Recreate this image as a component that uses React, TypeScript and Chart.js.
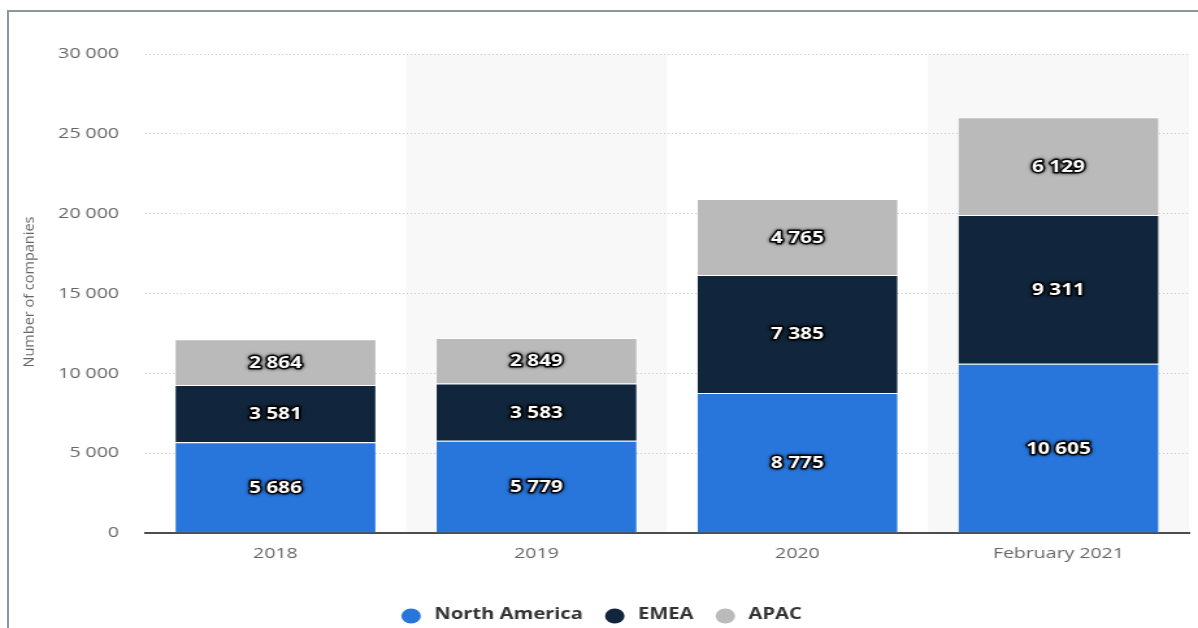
import React, { useEffect, useRef } from "react";
import { Chart, registerables } from "chart.js";

Chart.register(...registerables);

// Categories and series (number of companies by region)
const categories = ["2018", "2019", "2020", "February 2021"];
const northAmerica = [5686, 5779, 8775, 10605];
const emea = [3581, 3583, 7385, 9311];
const apac = [2864, 2849, 4765, 6129];
const seriesNames = ["North America", "EMEA", "APAC"];
const seriesColors = ["#2876dc", "#11263c", "#bababa"];
const yTicks = [0, 5000, 10000, 15000, 20000, 25000, 30000];
const yTitle = "Number of companies";

const VIEW_W = 1198;
const VIEW_H = 628;
// the drawing surface is rendered narrower and stretched to the view width
const CANVAS_W = 922;
const SX = VIEW_W / CANVAS_W;
const FONT = "'Open Sans', 'DejaVu Sans', sans-serif";

const fmt = (v: number) => String(v).replace(/\B(?=(\d{3})+(?!\d))/g, " ");

const bandPlugin = {
  id: "bands",
  beforeDraw(chart: any) {
    const { ctx, chartArea } = chart;
    const xs = chart.scales.x;
    const step = (chartArea.right - chartArea.left) / categories.length;
    ctx.save();
    ctx.fillStyle = "#f8f8f8";
    categories.forEach((_, i) => {
      if (i % 2 === 1) {
        const cx = xs.getPixelForValue(i);
        ctx.fillRect(cx - step / 2, chartArea.top, step, chartArea.bottom - chartArea.top);
      }
    });
    ctx.restore();
  },
};

const valueLabelPlugin = {
  id: "valueLabels",
  afterDatasetsDraw(chart: any) {
    const { ctx } = chart;
    ctx.save();
    ctx.font = `bold 16px ${FONT}`;
    ctx.textAlign = "center";
    ctx.textBaseline = "middle";
    ctx.lineJoin = "round";
    chart.data.datasets.forEach((ds: any, di: number) => {
      const meta = chart.getDatasetMeta(di);
      meta.data.forEach((bar: any, i: number) => {
        const v = ds.data[i];
        const x = bar.x;
        const y = (bar.y + bar.base) / 2 + 1;
        const t = fmt(v);
        ctx.shadowColor = "rgba(0,0,0,0.9)";
        ctx.shadowBlur = 3;
        ctx.lineWidth = 3;
        ctx.strokeStyle = "rgba(0,0,0,0.9)";
        ctx.strokeText(t, x, y);
        ctx.shadowBlur = 0;
        ctx.shadowColor = "transparent";
        ctx.fillStyle = "#ffffff";
        ctx.fillText(t, x, y);
      });
    });
    ctx.restore();
  },
};

const legendPlugin = {
  id: "bottomLegend",
  afterDraw(chart: any) {
    const { ctx, width } = chart;
    const r = 7.5;
    const gapText = 10.4;
    const gapItem = 17;
    const y = 615;
    ctx.save();
    ctx.font = `bold 15.5px ${FONT}`;
    ctx.textBaseline = "middle";
    ctx.textAlign = "left";
    const widths = seriesNames.map((n) => ctx.measureText(n).width);
    const total =
      widths.reduce((a, w) => a + 2 * r + gapText + w, 0) + gapItem * (seriesNames.length - 1);
    let x = width / 2 - total / 2 + 2;
    seriesNames.forEach((n, i) => {
      ctx.fillStyle = seriesColors[i];
      ctx.beginPath();
      ctx.arc(x + r, y + 1, r, 0, Math.PI * 2);
      ctx.fill();
      x += 2 * r + gapText;
      ctx.fillStyle = "#333333";
      ctx.fillText(n, x, y);
      x += widths[i] + gapItem;
    });
    ctx.restore();
  },
};

const titlePlugin = {
  id: "yTitle",
  afterDraw(chart: any) {
    const { ctx } = chart;
    ctx.save();
    ctx.translate(23, 292);
    ctx.scale(1 / SX, 1);
    ctx.rotate(-Math.PI / 2);
    ctx.font = `14.5px ${FONT}`;
    ctx.fillStyle = "#666666";
    ctx.textAlign = "center";
    ctx.textBaseline = "middle";
    ctx.fillText(yTitle, 0, 0);
    ctx.restore();
  },
};

export default function App() {
  const ref = useRef<HTMLCanvasElement | null>(null);

  useEffect(() => {
    const canvas = ref.current;
    if (!canvas) return;
    const values = [northAmerica, emea, apac];
    const chart = new Chart(canvas, {
      type: "bar",
      data: {
        labels: categories,
        datasets: values.map((d, i) => ({
          label: seriesNames[i],
          data: d,
          backgroundColor: seriesColors[i],
          borderColor: "#ffffff",
          borderWidth: { top: 1, bottom: 0, left: 0.5, right: 0.5 },
          borderSkipped: false,
          categoryPercentage: 1,
          barPercentage: 0.77,
        })),
      },
      options: {
        responsive: false,
        animation: false,
        devicePixelRatio: 1,
        events: [],
        layout: { padding: { top: 54, right: 7, bottom: 0, left: 0 } },
        plugins: {
          legend: { display: false },
          tooltip: { enabled: false },
        },
        scales: {
          x: {
            stacked: true,
            grid: { display: false, drawTicks: false },
            border: { display: true, color: "#4d4d4d", width: 2 },
            ticks: {
              color: "#666666",
              font: { family: FONT, size: 15 },
              padding: 12,
            },
            afterFit: (s: any) => {
              s.height = 95;
            },
          },
          y: {
            stacked: true,
            min: yTicks[0],
            max: yTicks[yTicks.length - 1],
            afterBuildTicks: (s: any) => {
              s.ticks = yTicks.map((v) => ({ value: v }));
            },
            ticks: {
              color: "#666666",
              font: { family: FONT, size: 15 },
              padding: 20,
              callback: (v: any) => fmt(Number(v)),
            },
            grid: { color: "#c8c8c8", drawTicks: false, lineWidth: 1 },
            border: { display: false, dash: [1, 2] },
            afterFit: (s: any) => {
              s.width = 111.6;
            },
          },
        },
      },
      plugins: [bandPlugin, valueLabelPlugin, legendPlugin, titlePlugin],
    });
    return () => chart.destroy();
  }, []);

  return (
    <div
      style={{
        position: "fixed",
        left: 0,
        top: 0,
        width: VIEW_W,
        height: VIEW_H,
        overflow: "hidden",
        background: "#ffffff",
      }}
    >
      <div
        style={{
          position: "absolute",
          left: 7,
          top: 10,
          width: VIEW_W,
          height: VIEW_H,
          borderLeft: "2px solid #8c979f",
          borderTop: "2px solid #8c979f",
        }}
      />
      <canvas
        ref={ref}
        width={CANVAS_W}
        height={VIEW_H}
        style={{
          position: "absolute",
          left: 0,
          top: 0,
          width: VIEW_W,
          height: VIEW_H,
          display: "block",
        }}
      />
    </div>
  );
}
